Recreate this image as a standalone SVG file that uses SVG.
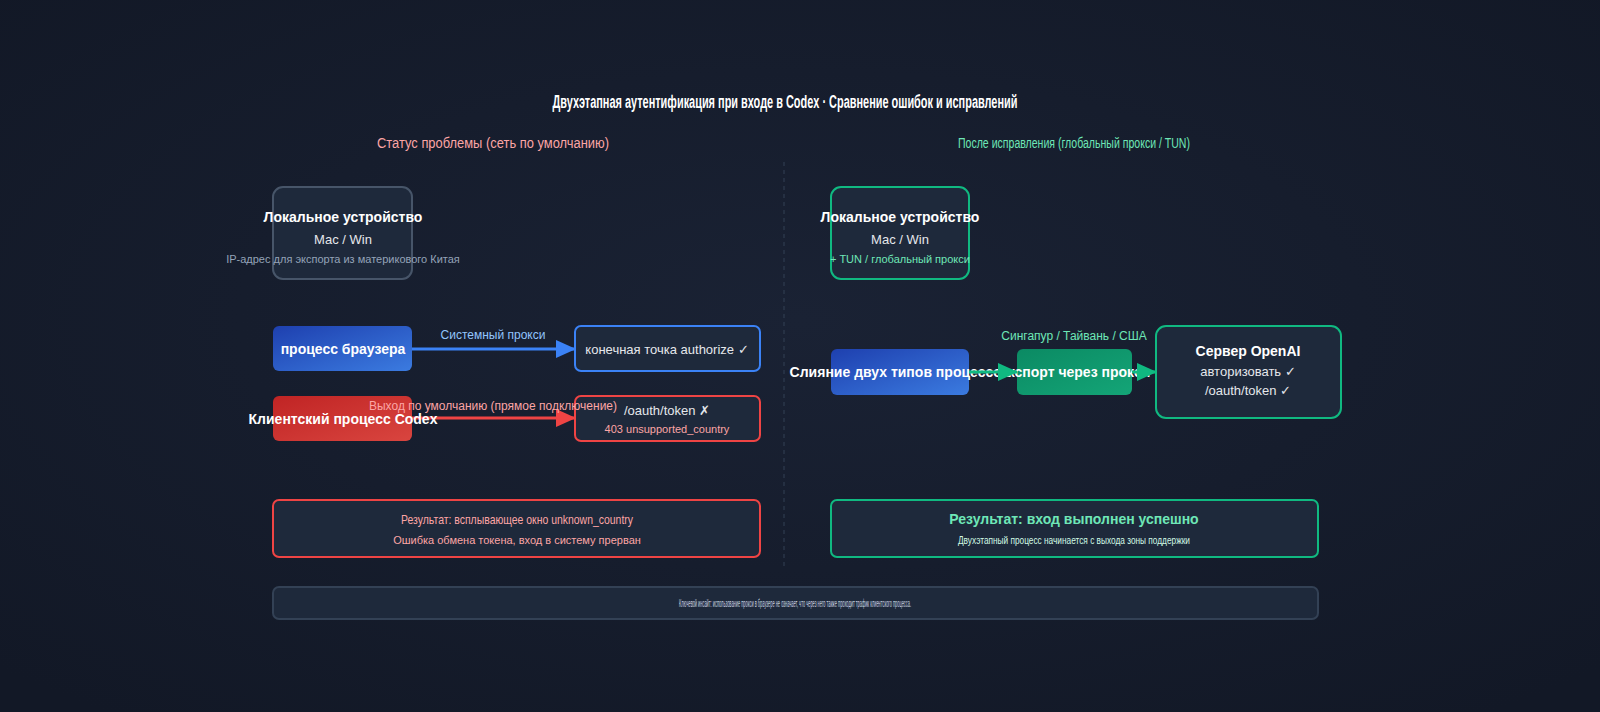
<svg xmlns="http://www.w3.org/2000/svg" width="1600" height="712" viewBox="0 0 1600 712">
<defs>
<radialGradient id="bg" cx="50%" cy="45%" r="70%"><stop offset="0" stop-color="#1a2234"/><stop offset="1" stop-color="#121826"/></radialGradient>
<linearGradient id="gb" x1="0" y1="0" x2="1" y2="1"><stop offset="0" stop-color="#1e40af"/><stop offset="1" stop-color="#3b7be0"/></linearGradient>
<linearGradient id="gr" x1="0" y1="0" x2="1" y2="1"><stop offset="0" stop-color="#c02424"/><stop offset="1" stop-color="#d9453f"/></linearGradient>
<linearGradient id="gg" x1="0" y1="0" x2="1" y2="1"><stop offset="0" stop-color="#0b8a63"/><stop offset="1" stop-color="#14a577"/></linearGradient>
<marker id="ab" markerWidth="20" markerHeight="18" refX="19" refY="9" orient="auto" markerUnits="userSpaceOnUse" viewBox="0 0 20 18"><path d="M0,0L20,9L0,18z" fill="#3b82f6"/></marker>
<marker id="ar" markerWidth="20" markerHeight="18" refX="19" refY="9" orient="auto" markerUnits="userSpaceOnUse" viewBox="0 0 20 18"><path d="M0,0L20,9L0,18z" fill="#ef4444"/></marker>
<marker id="ag" markerWidth="20" markerHeight="18" refX="19" refY="9" orient="auto" markerUnits="userSpaceOnUse" viewBox="0 0 20 18"><path d="M0,0L20,9L0,18z" fill="#10b981"/></marker>
</defs>
<style>
text{font-family:"Liberation Sans",Arial,sans-serif;text-anchor:middle}
.box{fill:#1e293b;stroke-width:2}
.w{fill:#fff;font-weight:bold;font-size:14px}
.n{fill:#e5e7eb;font-size:13px}
.s{font-size:11px}
</style>
<rect width="1600" height="712" fill="url(#bg)"/>
<text x="785" y="108" fill="#fff" font-size="18" font-weight="bold" textLength="465" lengthAdjust="spacingAndGlyphs">Двухэтапная аутентификация при входе в Codex · Сравнение ошибок и исправлений</text>
<text x="493" y="148" fill="#fca5a5" font-size="14" textLength="232" lengthAdjust="spacingAndGlyphs">Статус проблемы (сеть по умолчанию)</text>
<text x="1074" y="148" fill="#6ee7b7" font-size="14" textLength="232" lengthAdjust="spacingAndGlyphs">После исправления (глобальный прокси / TUN)</text>
<line x1="784" y1="162" x2="784" y2="568" stroke="#334155" stroke-dasharray="4 4"/>
<g id="left-device"><rect x="273" y="187" width="139" height="92" rx="10" class="box" stroke="#475569"/>
<text x="343" y="222" class="w" font-size="15">Локальное устройство</text><text x="343" y="244" class="n">Mac / Win</text><text x="343" y="263" class="s" fill="#94a3b8">IP-адрес для экспорта из материкового Китая</text></g>
<g id="browser"><rect x="273" y="326" width="139" height="45" rx="6" fill="url(#gb)"/><text x="343" y="354" class="w" font-size="13">процесс браузера</text></g>
<g id="authorize"><rect x="575" y="326" width="185" height="45" rx="6" class="box" stroke="#3b82f6"/><text x="667" y="354" class="n" font-size="14">конечная точка authorize ✓</text></g>
<g id="codex"><rect x="273" y="396" width="139" height="45" rx="6" fill="url(#gr)"/></g>
<g id="token"><rect x="575" y="396" width="185" height="45" rx="6" class="box" stroke="#ef4444"/><text x="667" y="415" class="n" font-size="14">/oauth/token ✗</text><text x="667" y="433" class="s" fill="#fca5a5">403 unsupported_country</text></g>
<g id="right-device"><rect x="831" y="187" width="138" height="92" rx="10" class="box" stroke="#10b981"/>
<text x="900" y="222" class="w" font-size="15">Локальное устройство</text><text x="900" y="244" class="n">Mac / Win</text><text x="900" y="263" class="s" fill="#6ee7b7">+ TUN / глобальный прокси</text></g>
<g id="merge"><rect x="831" y="349" width="138" height="46" rx="6" fill="url(#gb)"/><text x="900" y="377" class="w" font-size="13">Слияние двух типов процессов</text></g>
<g id="export"><rect x="1017" y="349" width="115" height="46" rx="6" fill="url(#gg)"/><text x="1074" y="377" class="w" font-size="13">Экспорт через прокси</text></g>
<g id="openai"><rect x="1156" y="326" width="185" height="92" rx="10" class="box" stroke="#10b981"/><text x="1248" y="356" class="w" font-size="14">Сервер OpenAI</text><text x="1248" y="376" class="n" font-size="12">авторизовать ✓</text><text x="1248" y="395" class="n" font-size="12">/oauth/token ✓</text></g>
<g id="connectors">
<line x1="412" y1="349" x2="575" y2="349" stroke="#3b82f6" stroke-width="3" marker-end="url(#ab)"/>
<text x="493" y="339" fill="#93c5fd" font-size="12">Системный прокси</text>
<line x1="412" y1="418" x2="575" y2="418" stroke="#ef4444" stroke-width="3" marker-end="url(#ar)"/>
<text x="493" y="410" fill="#fca5a5" font-size="12">Выход по умолчанию (прямое подключение)</text>
<line x1="969" y1="372" x2="1017" y2="372" stroke="#10b981" stroke-width="3" marker-end="url(#ag)"/>
<line x1="1132" y1="372" x2="1156" y2="372" stroke="#10b981" stroke-width="3" marker-end="url(#ag)"/>
<text x="1074" y="340" fill="#6ee7b7" font-size="12">Сингапур / Тайвань / США</text>
</g>
<text x="343" y="424" class="w" font-size="13">Клиентский процесс Codex</text>
<g id="result-left"><rect x="273" y="500" width="487" height="57" rx="6" class="box" stroke="#ef4444"/><text x="517" y="524" fill="#fca5a5" font-size="13" textLength="232" lengthAdjust="spacingAndGlyphs">Результат: всплывающее окно unknown_country</text><text x="517" y="544" fill="#fca5a5" font-size="11">Ошибка обмена токена, вход в систему прерван</text></g>
<g id="result-right"><rect x="831" y="500" width="487" height="57" rx="6" class="box" stroke="#10b981"/><text x="1074" y="524" fill="#6ee7b7" font-size="14" font-weight="bold">Результат: вход выполнен успешно</text><text x="1074" y="544" fill="#d1fae5" font-size="10" textLength="232" lengthAdjust="spacingAndGlyphs">Двухэтапный процесс начинается с выхода зоны поддержки</text></g>
<g id="note"><rect x="273" y="587" width="1045" height="32" rx="6" class="box" stroke="#334155" stroke-width="1.5"/><text x="795" y="607" fill="#cbd5e1" font-size="10" textLength="232" lengthAdjust="spacingAndGlyphs">Ключевой инсайт: использование прокси в браузере не означает, что через него также проходит трафик клиентского процесса.</text></g>
</svg>
